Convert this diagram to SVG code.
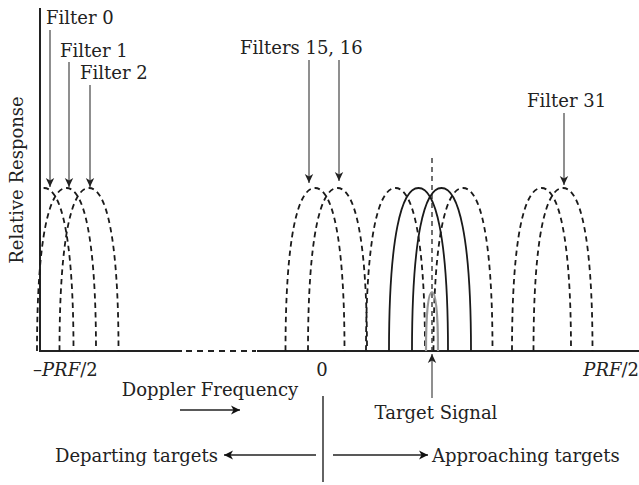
<svg xmlns="http://www.w3.org/2000/svg" width="639" height="485" viewBox="0 0 639 485">
<style>
  text { font-family: "DejaVu Serif", "Liberation Serif", serif; font-size: 18px; fill: #222; }
  .it { font-style: italic; }
  .axis { stroke: #222; stroke-width: 2; fill: none; }
  .dash { stroke: #1a1a1a; stroke-width: 1.8; fill: none; stroke-dasharray: 5.5 4; }
  .solid { stroke: #1a1a1a; stroke-width: 1.8; fill: none; }
  .sig { stroke: #999; stroke-width: 2.2; fill: none; }
  .arr { stroke: #333; stroke-width: 1.1; fill: none; marker-end: url(#ah); }
  .arrk { stroke: #222; stroke-width: 1.4; fill: none; marker-end: url(#ahk); }
</style>
<defs>
  <marker id="ah" markerUnits="userSpaceOnUse" markerWidth="12" markerHeight="10" viewBox="-10 -5 12 10" refX="0" refY="0" orient="auto">
    <path d="M0,0 L-9,-4.2 L-6.5,0 L-9,4.2 Z" fill="#222"/>
  </marker>
  <marker id="ahk" markerUnits="userSpaceOnUse" markerWidth="12" markerHeight="10" viewBox="-10 -5 12 10" refX="0" refY="0" orient="auto">
    <path d="M0,0 L-9,-4.5 L-6.5,0 L-9,4.5 Z" fill="#111"/>
  </marker>
  <path id="arch" d="M-29.5,0 C-29.5,-115 -17,-163 0,-163 C17,-163 29.5,-115 29.5,0"/>
  <clipPath id="clipL"><rect x="40" y="0" width="600" height="485"/></clipPath>
</defs>

<g id="axes">
  <line class="axis" x1="40" y1="8" x2="40" y2="352"/>
  <line class="axis" x1="39" y1="351" x2="182" y2="351"/>
  <line class="axis" x1="186" y1="351" x2="256" y2="351" stroke-dasharray="6 5"/>
  <line class="axis" x1="257" y1="351" x2="639" y2="351"/>
  <line x1="432" y1="158" x2="432" y2="351" stroke="#333" stroke-width="1.4" stroke-dasharray="5 4"/>
</g>

<g id="filter0" clip-path="url(#clipL)"><use href="#arch" class="dash" x="44" y="351"/></g>
<g id="filter1"><use href="#arch" class="dash" x="66.5" y="351"/></g>
<g id="filter2"><use href="#arch" class="dash" x="89" y="351"/></g>
<g id="filter15"><use href="#arch" class="dash" x="315" y="351"/></g>
<g id="filter16"><use href="#arch" class="dash" x="337.5" y="351"/></g>
<g id="filterA"><use href="#arch" class="dash" x="395.5" y="351"/></g>
<g id="filterS1"><use href="#arch" class="solid" x="418.5" y="351"/></g>
<g id="filterS2"><use href="#arch" class="solid" x="441.5" y="351"/></g>
<g id="filterB"><use href="#arch" class="dash" x="463" y="351"/></g>
<g id="filterC"><use href="#arch" class="dash" x="541.5" y="351"/></g>
<g id="filter31"><use href="#arch" class="dash" x="563" y="351"/></g>
<g id="target"><path class="sig" d="M426,351 C426,315 428,292 432,292 C436,292 438,315 438,351"/></g>

<g id="labels">
  <text transform="translate(23,180) rotate(-90)" text-anchor="middle" font-size="19">Relative Response</text>
  <text x="46" y="24">Filter 0</text>
  <text x="60" y="57">Filter 1</text>
  <text x="80" y="79">Filter 2</text>
  <text x="240" y="54">Filters 15, 16</text>
  <text x="527" y="107">Filter 31</text>
  <text x="33" y="376">–<tspan class="it">PRF</tspan>/2</text>
  <text x="322" y="376" text-anchor="middle">0</text>
  <text x="639" y="376" text-anchor="end"><tspan class="it">PRF</tspan>/2</text>
  <text x="210" y="396" text-anchor="middle">Doppler Frequency</text>
  <text x="436" y="419" text-anchor="middle">Target Signal</text>
  <text x="55" y="462">Departing targets</text>
  <text x="432" y="462">Approaching targets</text>
</g>

<g id="connectors">
  <line class="arr" x1="50" y1="30" x2="50" y2="187"/>
  <line class="arr" x1="69" y1="62" x2="69" y2="187"/>
  <line class="arr" x1="90" y1="85" x2="90" y2="187"/>
  <line class="arr" x1="309" y1="60" x2="309" y2="183"/>
  <line class="arr" x1="339" y1="60" x2="339" y2="181"/>
  <line class="arr" x1="564" y1="113" x2="564" y2="185"/>
  <line class="arr" x1="432" y1="398" x2="432" y2="354"/>
  <line class="arrk" x1="180" y1="410" x2="240" y2="410"/>
  <line class="arrk" x1="316" y1="455" x2="224" y2="455"/>
  <line class="arrk" x1="333" y1="455" x2="428" y2="455"/>
  <line x1="323" y1="396" x2="323" y2="482" stroke="#222" stroke-width="1.4"/>
</g>
</svg>
